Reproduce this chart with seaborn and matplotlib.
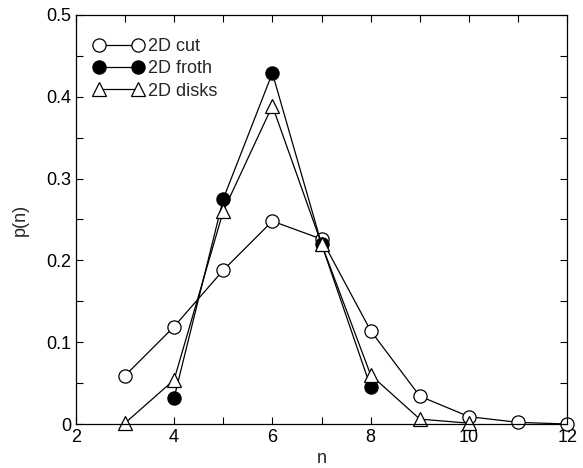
import numpy as np
import matplotlib
matplotlib.use("Agg")
import matplotlib.pyplot as plt
import seaborn as sns
import pandas as pd

# data
n_cut = [3, 4, 5, 6, 7, 8, 9, 10, 11, 12]
p_cut = [0.059, 0.119, 0.188, 0.248, 0.226, 0.114, 0.034, 0.009, 0.002, 0.0]

n_froth = [4, 5, 6, 7, 8]
p_froth = [0.032, 0.275, 0.429, 0.220, 0.045]

n_disks = [3, 4, 5, 6, 7, 8, 9, 10]
p_disks = [0.001, 0.054, 0.260, 0.389, 0.220, 0.060, 0.006, 0.001]

sns.set_style("ticks")
plt.rcParams['font.family'] = ['Liberation Sans', 'DejaVu Sans']

fig = plt.figure(figsize=(5.83, 4.68), dpi=100)
ax = fig.add_axes([0.130, 0.094, 0.843, 0.874])

series = [
    ("2D cut", n_cut, p_cut, "o", "white"),
    ("2D froth", n_froth, p_froth, "o", "black"),
    ("2D disks", n_disks, p_disks, "^", "white"),
]
for label, xs, ys, mk, fc in series:
    df = pd.DataFrame({"n": xs, "p": ys})
    sns.lineplot(data=df, x="n", y="p", ax=ax, color="black", linewidth=0.9,
                 marker=mk, markersize=9.5, markerfacecolor=fc,
                 markeredgecolor="black", markeredgewidth=0.9, label=label,
                 clip_on=False)

ax.set_xlim(2, 12)
ax.set_ylim(0, 0.5)
ax.set_xticks([2, 4, 6, 8, 10, 12])
ax.set_xticks([3, 5, 7, 9, 11], minor=True)
ax.set_yticks([0, 0.1, 0.2, 0.3, 0.4, 0.5])
ax.set_yticklabels(["0", "0.1", "0.2", "0.3", "0.4", "0.5"])
ax.set_yticks([0.05, 0.15, 0.25, 0.35, 0.45], minor=True)
ax.tick_params(which="both", direction="in", top=True, right=True,
               labelsize=13, width=0.8, colors="black", length=5)
for s in ax.spines.values():
    s.set_linewidth(0.9)
    s.set_color("black")

ax.set_xlabel("n", fontsize=13, labelpad=3)
ax.set_ylabel("p(n)", fontsize=13, labelpad=12)

ax.legend(loc="upper left", frameon=False, handlelength=2.8, fontsize=13,
          numpoints=2, handletextpad=0.25, borderaxespad=0.3, labelspacing=0.3,
          bbox_to_anchor=(0.01, 0.975))

fig.savefig("out.png", dpi=100)
